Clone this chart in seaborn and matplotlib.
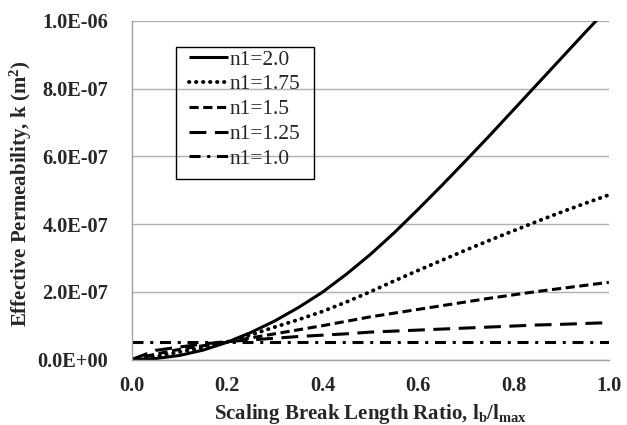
"""Effective permeability vs scaling break length ratio for several n1 values."""

import matplotlib
matplotlib.use("Agg")
import matplotlib.pyplot as plt
from matplotlib.patches import Rectangle
import pandas as pd
import seaborn as sns

# Values (k in m^2)
ratio = [0.0, 0.05, 0.1, 0.15, 0.2, 0.25, 0.3, 0.35, 0.4, 0.45, 0.5,
         0.55, 0.6, 0.65, 0.7, 0.75, 0.8, 0.85, 0.9, 0.95, 1.0]
k_n1_20 = [0.0, 0.03e-7, 0.12e-7, 0.28e-7, 0.51e-7, 0.8e-7, 1.14e-7, 1.54e-7, 1.99e-7, 2.52e-7, 3.1e-7,
           3.74e-7, 4.43e-7, 5.14e-7, 5.87e-7, 6.61e-7, 7.37e-7, 8.13e-7, 8.89e-7, 9.65e-7, 10.4e-7]
k_n1_175 = [0.0, 0.09e-7, 0.22e-7, 0.36e-7, 0.52e-7, 0.73e-7, 0.96e-7, 1.18e-7, 1.42e-7, 1.7e-7, 2.0e-7,
            2.32e-7, 2.63e-7, 2.93e-7, 3.23e-7, 3.52e-7, 3.8e-7, 4.08e-7, 4.35e-7, 4.61e-7, 4.86e-7]
k_n1_15 = [0.0, 0.16e-7, 0.3e-7, 0.41e-7, 0.52e-7, 0.64e-7, 0.76e-7, 0.88e-7, 1.0e-7, 1.13e-7, 1.26e-7,
           1.37e-7, 1.48e-7, 1.59e-7, 1.7e-7, 1.81e-7, 1.91e-7, 2.01e-7, 2.1e-7, 2.19e-7, 2.28e-7]
k_n1_125 = [0.0, 0.27e-7, 0.37e-7, 0.46e-7, 0.53e-7, 0.58e-7, 0.63e-7, 0.68e-7, 0.72e-7, 0.76e-7, 0.81e-7,
            0.84e-7, 0.87e-7, 0.9e-7, 0.93e-7, 0.96e-7, 0.99e-7, 1.02e-7, 1.04e-7, 1.065e-7, 1.09e-7]
k_n1_10 = [0.53e-7] * len(ratio)

series_labels = ["n1=2.0", "n1=1.75", "n1=1.5", "n1=1.25", "n1=1.0"]
series_values = [k_n1_20, k_n1_175, k_n1_15, k_n1_125, k_n1_10]

y_ticks = [0.0, 2e-7, 4e-7, 6e-7, 8e-7, 1e-6]
y_tick_labels = ["0.0E+00", "2.0E-07", "4.0E-07", "6.0E-07", "8.0E-07", "1.0E-06"]
x_ticks = [0.0, 0.2, 0.4, 0.6, 0.8, 1.0]

df = pd.DataFrame(
    [(x, y, lab) for lab, vals in zip(series_labels, series_values) for x, y in zip(ratio, vals)],
    columns=["ratio", "k", "series"],
)

sns.set_style("white")
plt.rcParams["font.family"] = ["Liberation Serif", "DejaVu Serif"]
plt.rcParams["mathtext.fontset"] = "custom"
plt.rcParams["mathtext.rm"] = "Liberation Serif:bold"
plt.rcParams["mathtext.bf"] = "Liberation Serif:bold"
plt.rcParams["mathtext.it"] = "Liberation Serif:bold"

styles = {
    "n1=2.0": dict(linestyle="-", linewidth=2.2),
    "n1=1.75": dict(linestyle=(0, (0.1, 1.7)), linewidth=2.8, dash_capstyle="round"),
    "n1=1.5": dict(linestyle=(0, (3.0, 1.5)), linewidth=2.2),
    "n1=1.25": dict(linestyle=(0, (5.5, 2.8)), linewidth=2.2),
    "n1=1.0": dict(linestyle=(0, (3.6, 2.2, 1.0, 2.2)), linewidth=2.2),
}

fig, ax = plt.subplots(figsize=(6.27, 4.25), dpi=100)
fig.subplots_adjust(left=0.21, right=0.971, bottom=0.154, top=0.951)

for lab in series_labels:
    sub = df[df["series"] == lab]
    sns.lineplot(data=sub, x="ratio", y="k", ax=ax, color="black", label=lab,
                 solid_capstyle="butt", solid_joinstyle="round", **styles[lab])

ax.set_xlim(0, 1.0)
ax.set_ylim(0, 1e-6)
ax.set_xticks(x_ticks)
ax.set_xticklabels([f"{t:.1f}" for t in x_ticks])
ax.set_yticks(y_ticks)
ax.set_yticklabels(y_tick_labels)

ax.yaxis.grid(True, color="#b0b0b0", linewidth=1.0)
ax.xaxis.grid(False)
ax.set_axisbelow(True)
for side in ["top", "right"]:
    ax.spines[side].set_visible(False)
for side in ["left", "bottom"]:
    ax.spines[side].set_color("#a0a0a0")
    ax.spines[side].set_linewidth(1.0)

ax.tick_params(axis="both", which="major", direction="out", length=6, width=1.0,
               color="#a0a0a0", labelsize=14.7)
ax.tick_params(axis="y", pad=11)
ax.tick_params(axis="x", pad=6)
for lbl in ax.get_xticklabels() + ax.get_yticklabels():
    lbl.set_fontweight("bold")

ax.set_xlabel(r"Scaling Break Length Ratio, l$_\mathbf{b}$/l$_\mathbf{max}$",
              fontsize=15, fontweight="bold", labelpad=4)
ax.set_ylabel(r"Effective Permeability, k (m$^\mathbf{2}$)",
              fontsize=15, fontweight="bold")
ax.yaxis.set_label_coords(-0.205, 0.49)

# legend entries without frame, plus a plain black box drawn around them
leg = ax.legend(loc="upper left", bbox_to_anchor=(0.12, 0.915), fontsize=15.5,
                frameon=False, handlelength=1.8, handletextpad=0.1,
                borderpad=0, labelspacing=0.22, borderaxespad=0)
ax.add_patch(Rectangle((0.093, 0.533), 0.289, 0.39, transform=ax.transAxes,
                       fill=False, edgecolor="black", linewidth=1.0, zorder=5))

fig.savefig("out.png", dpi=100)
plt.close(fig)
